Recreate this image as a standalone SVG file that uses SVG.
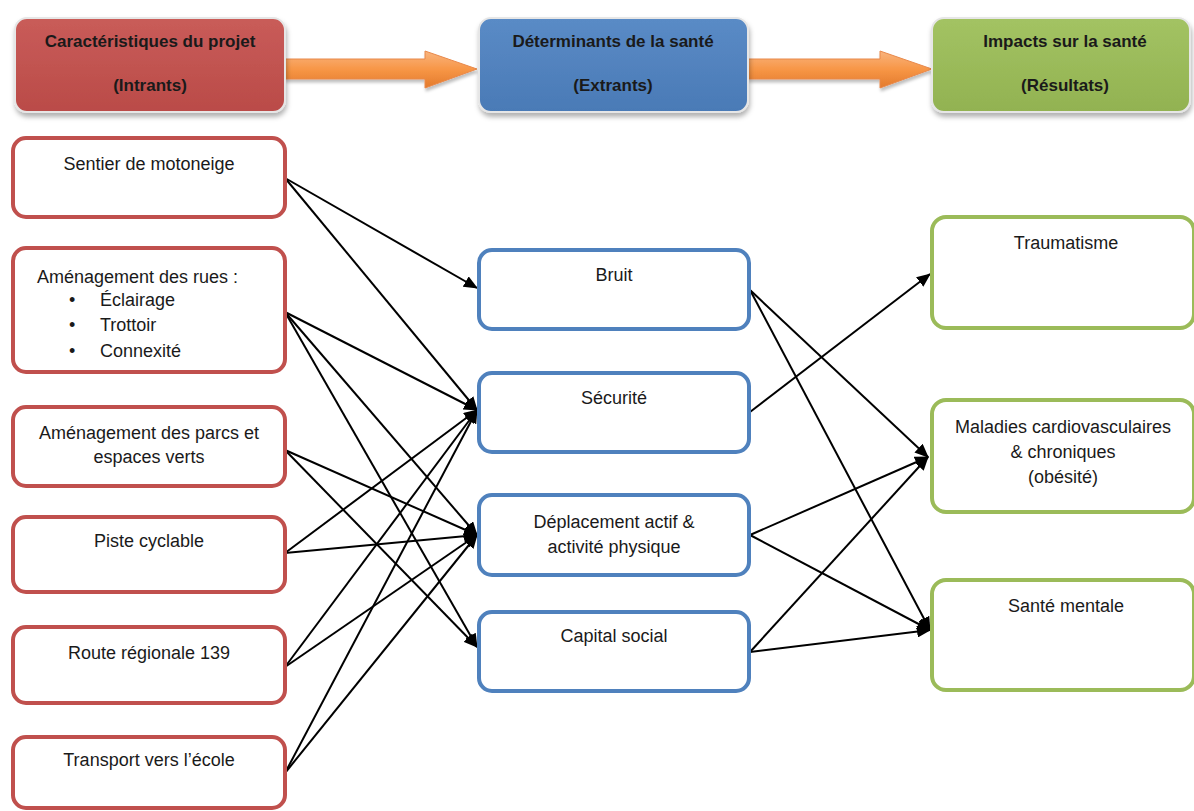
<svg xmlns="http://www.w3.org/2000/svg" width="1194" height="811" viewBox="0 0 1194 811">
<style>
  text { font-family: "Liberation Sans", Arial, sans-serif; fill: #1a1a1a; }
  .hd { font-size: 17px; font-weight: bold; text-anchor: middle; }
  .lb { font-size: 18px; text-anchor: middle; }
  .lbl { font-size: 18px; }
  .red { fill: #ffffff; stroke: #C0504D; stroke-width: 4; }
  .blue { fill: #ffffff; stroke: #4F81BD; stroke-width: 4; }
  .green { fill: #ffffff; stroke: #9BBB59; stroke-width: 4; }
  .hbox { stroke: #e6e6e6; stroke-width: 2; filter: url(#shadow); }
  .conn line { stroke: #000; stroke-width: 2; marker-end: url(#arr); }
  .orange { fill: url(#og); stroke: #E8884A; stroke-width: 1; filter: url(#shadow2); }
</style>
<defs>
  <marker id="arr" markerUnits="userSpaceOnUse" markerWidth="14" markerHeight="12" refX="13" refY="6" orient="auto">
    <path d="M0,0 L14,6 L0,12 z" fill="#000"/>
  </marker>
  <filter id="shadow" x="-10%" y="-10%" width="120%" height="140%">
    <feDropShadow dx="1" dy="4" stdDeviation="2.5" flood-color="#000" flood-opacity="0.3"/>
  </filter>
  <filter id="shadow2" x="-10%" y="-20%" width="120%" height="160%">
    <feDropShadow dx="1" dy="3" stdDeviation="1.5" flood-color="#000" flood-opacity="0.25"/>
  </filter>
  <linearGradient id="rg" x1="0" y1="0" x2="0" y2="1">
    <stop offset="0" stop-color="#C95C59"/><stop offset="1" stop-color="#BA4B48"/>
  </linearGradient>
  <linearGradient id="bg" x1="0" y1="0" x2="0" y2="1">
    <stop offset="0" stop-color="#5A8BC6"/><stop offset="1" stop-color="#4A7AB6"/>
  </linearGradient>
  <linearGradient id="gg" x1="0" y1="0" x2="0" y2="1">
    <stop offset="0" stop-color="#A3C363"/><stop offset="1" stop-color="#92B251"/>
  </linearGradient>
  <linearGradient id="og" x1="0" y1="0" x2="0" y2="1">
    <stop offset="0" stop-color="#F9B47E"/><stop offset="0.5" stop-color="#F79646"/><stop offset="1" stop-color="#E37A2C"/>
  </linearGradient>
</defs>

<rect width="1194" height="811" fill="#ffffff"/>

<!-- header arrows -->
<g id="header-arrows">
  <polygon class="orange" points="285,59 425,59 425,51 477,69 425,88 425,79 285,79"/>
  <polygon class="orange" points="748,59 880,59 880,51 932,69 880,88 880,79 748,79"/>
</g>

<!-- header nodes -->
<g id="h-intrants">
  <rect class="hbox" x="15" y="18" width="270" height="94" rx="12" fill="url(#rg)"/>
  <text class="hd" x="150" y="47">Caractéristiques du projet</text>
  <text class="hd" x="150" y="91">(Intrants)</text>
</g>
<g id="h-extrants">
  <rect class="hbox" x="479" y="18" width="269" height="94" rx="12" fill="url(#bg)"/>
  <text class="hd" x="613" y="47">Déterminants de la santé</text>
  <text class="hd" x="613" y="91">(Extrants)</text>
</g>
<g id="h-resultats">
  <rect class="hbox" x="932" y="18" width="258" height="94" rx="12" fill="url(#gg)"/>
  <text class="hd" x="1065" y="47">Impacts sur la santé</text>
  <text class="hd" x="1065" y="91">(Résultats)</text>
</g>

<!-- connectors -->
<g id="connectors" class="conn">
  <line x1="285" y1="178" x2="477" y2="288"/>
  <line x1="285" y1="178" x2="477" y2="410"/>
  <line x1="285" y1="312" x2="477" y2="410"/>
  <line x1="285" y1="312" x2="477" y2="535"/>
  <line x1="285" y1="312" x2="477" y2="647"/>
  <line x1="285" y1="450" x2="477" y2="535"/>
  <line x1="285" y1="450" x2="477" y2="647"/>
  <line x1="285" y1="553" x2="477" y2="410"/>
  <line x1="285" y1="553" x2="477" y2="535"/>
  <line x1="285" y1="667" x2="477" y2="410"/>
  <line x1="285" y1="667" x2="477" y2="535"/>
  <line x1="285" y1="773" x2="477" y2="410"/>
  <line x1="285" y1="773" x2="477" y2="535"/>
  <line x1="750" y1="290" x2="928" y2="457"/>
  <line x1="750" y1="290" x2="930" y2="630"/>
  <line x1="750" y1="412" x2="930" y2="274"/>
  <line x1="750" y1="535" x2="928" y2="457"/>
  <line x1="750" y1="535" x2="930" y2="630"/>
  <line x1="750" y1="652" x2="928" y2="457"/>
  <line x1="750" y1="652" x2="930" y2="630"/>
</g>

<!-- left column -->
<g id="n-sentier">
  <rect class="red" x="13" y="138" width="272" height="79" rx="13"/>
  <text class="lb" x="149" y="170">Sentier de motoneige</text>
</g>
<g id="n-rues">
  <rect class="red" x="13" y="248" width="272" height="124" rx="13"/>
  <text class="lbl" x="37" y="283">Aménagement des rues :</text>
  <text class="lbl" x="69" y="306">•</text><text class="lbl" x="100" y="306">Éclairage</text>
  <text class="lbl" x="69" y="331">•</text><text class="lbl" x="100" y="331">Trottoir</text>
  <text class="lbl" x="69" y="357">•</text><text class="lbl" x="100" y="357">Connexité</text>
</g>
<g id="n-parcs">
  <rect class="red" x="13" y="407" width="272" height="79" rx="13"/>
  <text class="lb" x="149" y="439">Aménagement des parcs et</text>
  <text class="lb" x="149" y="463">espaces verts</text>
</g>
<g id="n-piste">
  <rect class="red" x="13" y="517" width="272" height="75" rx="13"/>
  <text class="lb" x="149" y="547">Piste cyclable</text>
</g>
<g id="n-route">
  <rect class="red" x="13" y="627" width="272" height="76" rx="13"/>
  <text class="lb" x="149" y="659">Route régionale 139</text>
</g>
<g id="n-transport">
  <rect class="red" x="13" y="737" width="272" height="71" rx="13"/>
  <text class="lb" x="149" y="766">Transport vers l’école</text>
</g>

<!-- middle column -->
<g id="n-bruit">
  <rect class="blue" x="479" y="250" width="270" height="79" rx="13"/>
  <text class="lb" x="614" y="281">Bruit</text>
</g>
<g id="n-securite">
  <rect class="blue" x="479" y="373" width="270" height="79" rx="13"/>
  <text class="lb" x="614" y="404">Sécurité</text>
</g>
<g id="n-deplacement">
  <rect class="blue" x="479" y="495" width="270" height="80" rx="13"/>
  <text class="lb" x="614" y="528">Déplacement actif &amp;</text>
  <text class="lb" x="614" y="553">activité physique</text>
</g>
<g id="n-capital">
  <rect class="blue" x="479" y="612" width="270" height="79" rx="13"/>
  <text class="lb" x="614" y="642">Capital social</text>
</g>

<!-- right column -->
<g id="n-traumatisme">
  <rect class="green" x="932" y="217" width="262" height="111" rx="14"/>
  <text class="lb" x="1066" y="249">Traumatisme</text>
</g>
<g id="n-maladies">
  <rect class="green" x="932" y="400" width="262" height="112" rx="14"/>
  <text class="lb" x="1063" y="433">Maladies cardiovasculaires</text>
  <text class="lb" x="1063" y="458">&amp; chroniques</text>
  <text class="lb" x="1063" y="483">(obésité)</text>
</g>
<g id="n-sante">
  <rect class="green" x="932" y="580" width="262" height="110" rx="14"/>
  <text class="lb" x="1066" y="612">Santé mentale</text>
</g>
</svg>
